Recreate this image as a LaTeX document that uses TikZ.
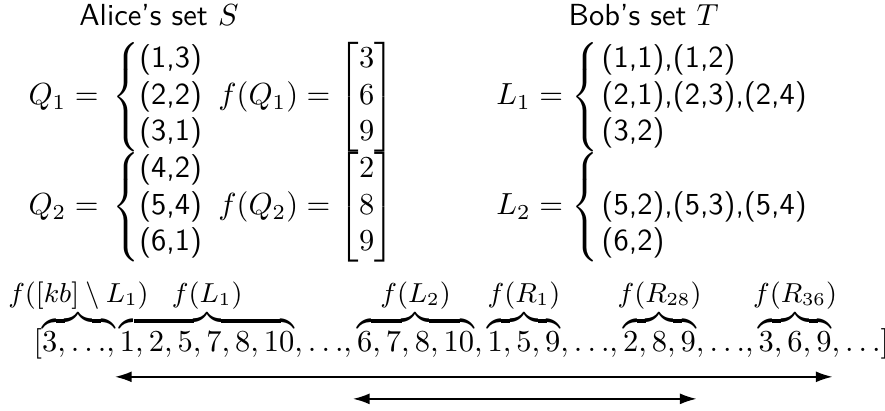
\documentclass[tikz,border=0pt]{standalone}
\usepackage{amsmath,amssymb,mathtools}
\renewcommand{\familydefault}{\sfdefault}
\usetikzlibrary{arrows.meta,positioning}
\newcommand{\blabel}[1]{\mathclap{\text{\small$#1$}}}
\newcommand{\sdots}{{\ldotp\ldotp\ldotp}}
\tikzset{title/.style={inner sep=0pt},
  setdef/.style={anchor=west,inner sep=0pt},
  span/.style={{Latex[length=5.5pt,width=3.6pt]}-{Latex[length=5.5pt,width=3.6pt]},semithick}}

\begin{document}
\begin{tikzpicture}[x=1cm,y=1cm]
\useasboundingbox (0,0) rectangle (10.2,4.735);
\node[title] (alice) at (1.832,4.562) {Alice's set $S$};
\node[title] (bob) at (7.419,4.562) {Bob's set $T$};
% Alice's queries
\node[setdef] (Q1) at (0.323,3.617)
 {$Q_1=\,\left\{\begin{array}{@{}l@{}}\text{(1,3)}\\ \text{(2,2)}\\ \text{(3,1)}\end{array}\right.$};
\node[setdef] (fQ1) at (2.511,3.617)
 {$f(Q_1)=\left[\begin{array}{@{}c@{}}3\\6\\9\end{array}\right]$};
\node[setdef] (Q2) at (0.323,2.350)
 {$Q_2=\,\left\{\begin{array}{@{}l@{}}\text{(4,2)}\\ \text{(5,4)}\\ \text{(6,1)}\end{array}\right.$};
\node[setdef] (fQ2) at (2.511,2.350)
 {$f(Q_2)=\left[\begin{array}{@{}c@{}}2\\8\\9\end{array}\right]$};
% Bob's lists
\node[setdef] (L1) at (5.715,3.617)
 {$L_1=\left\{\begin{array}{@{\hspace{1pt}}l@{}}\text{(1,1),(1,2)}\\ \text{(2,1),(2,3),(2,4)}\\ \text{(3,2)}\end{array}\right.$};
\node[setdef] (L2) at (5.715,2.350)
 {$L_2=\left\{\begin{array}{@{\hspace{1pt}}l@{}}\\ \text{(5,2),(5,3),(5,4)}\\ \text{(6,2)}\end{array}\right.$};
% the sequence
\node[anchor=base west,inner sep=0pt] (seq) at (0.380,0.680)
 {$[{\overbrace{3,\sdots,}^{\blabel{f([kb]\setminus L_1)}}}\,{\overbrace{1,2,5,7,8,10}^{\blabel{f(L_1)}}},\sdots,{\overbrace{6,7,8,10}^{\blabel{f(L_2)}}},{\overbrace{1,5,9}^{\blabel{f(R_1)}}},\sdots,{\overbrace{2,8,9}^{\blabel{f(R_{28})}}},\sdots,{\overbrace{3,6,9}^{\blabel{f(R_{36})}}},\sdots]$};
\coordinate (longL) at (1.325,0.392);
\coordinate (longR) at (9.596,0.392);
\coordinate (shortL) at (4.067,0.138);
\coordinate (shortR) at (8.029,0.138);
\draw[span] (longL)--(longR);
\draw[span] (shortL)--(shortR);
\end{tikzpicture}
\end{document}
